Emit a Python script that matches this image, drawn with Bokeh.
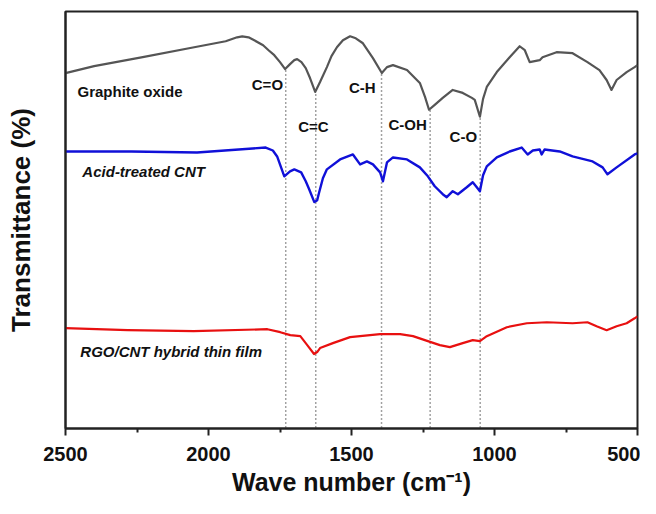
from bokeh.plotting import figure
from bokeh.models import Range1d, FixedTicker
from bokeh.core.properties import value
from bokeh.embed import file_html
from bokeh.resources import INLINE

# ---- data (wavenumber cm-1, transmittance in arbitrary offset units) ----
gray_wn = [2500, 2400, 2230, 2050, 1940, 1900, 1882, 1860, 1840, 1809, 1790, 1770, 1750, 1732,
           1715, 1700, 1690, 1675, 1660, 1645, 1627, 1610, 1586, 1570, 1551, 1530, 1505, 1485,
           1460, 1425, 1394, 1376, 1355, 1306, 1261, 1243, 1229, 1209, 1181, 1146, 1111,
           1079, 1069, 1051, 1040, 1027, 992, 947, 912, 894, 877, 842, 832, 783, 727, 675, 633, 608,
           591, 573, 538, 510, 500]
gray_t = [361, 368, 377, 387, 393, 397, 398, 397, 394, 389, 384, 379, 372, 365,
          370, 374, 375, 372, 366, 356, 342, 352, 367, 378, 387, 394, 398, 396,
          391, 376, 361, 367, 369, 364, 351, 337, 324, 329, 336, 344, 341,
          336, 334, 317, 335, 347, 362, 377, 388, 384, 372, 374, 377, 382, 381, 372, 364, 354,
          344, 354, 362, 367, 369]

blue_wn = [2500, 2270, 2040, 1800, 1775, 1760, 1745, 1735, 1715, 1700, 1676, 1660, 1648, 1630,
           1620, 1613, 1600, 1586, 1540, 1495, 1470, 1446, 1425, 1400, 1390, 1376, 1355, 1306,
           1261, 1233, 1209, 1181, 1167, 1146, 1128, 1097, 1076, 1062, 1051, 1040, 1027, 992,
           947, 905, 884, 866, 842, 835, 825, 772, 727, 657, 622, 605, 573, 510, 500]
blue_t = [282, 282, 281, 286, 283, 277, 265, 257, 262, 264, 261, 252, 244, 231,
          233, 241, 255, 264, 274, 279, 269, 272, 269, 261, 252, 271, 276, 274,
          266, 257, 247, 239, 236, 242, 239, 246, 251, 246, 242, 258, 267, 276,
          282, 286, 279, 283, 284, 279, 284, 282, 277, 272, 266, 259, 266, 279, 280]

red_wn = [2500, 2283, 2052, 1794, 1749, 1714, 1679, 1652, 1631, 1620, 1610, 1565, 1505, 1470,
          1400, 1330, 1285, 1233, 1191, 1156, 1111, 1076, 1051, 1027, 957, 887, 817, 727,
          675, 643, 608, 573, 538, 510, 500]
red_t = [104, 102, 101, 103, 100, 97, 96, 86, 78, 80, 84, 89, 95, 96,
         98, 98, 96, 91, 87, 85, 89, 92, 91, 96, 105, 109, 110, 109,
         110, 106, 102, 106, 109, 114, 116]

peak_wn = [1730, 1625, 1395, 1225, 1050]
peak_top = [366, 342, 362, 324, 317]
peak_labels = ["C=O", "C=C", "C-H", "C-OH", "C-O"]
peak_label_x = [1794, 1633, 1462, 1304, 1109]
peak_label_y = [349, 307, 346, 309, 297]

series_names = ["Graphite oxide", "Acid-treated CNT", "RGO/CNT hybrid thin film"]
series_name_x = [2458, 2441, 2448]
series_name_y = [342, 262, 81]
series_name_style = ["bold", "bold italic", "bold italic"]

x_major = [2500, 2000, 1500, 1000, 500]
x_minor = [2250, 1750, 1250, 750]

FONT = "Liberation Sans"

p = figure(width=640, height=498, output_backend="svg", toolbar_location=None,
           x_range=Range1d(2500, 500), y_range=Range1d(3, 423),
           min_border_left=65, min_border_right=3, min_border_top=11, min_border_bottom=67)
p.grid.visible = False
p.background_fill_color = "white"
p.border_fill_color = "white"
p.outline_line_color = "#222222"
p.outline_line_width = 2

# x axis
xa = p.xaxis[0]
xa.ticker = FixedTicker(ticks=x_major, minor_ticks=x_minor)
xa.axis_line_width = 2
xa.axis_line_color = "#222222"
xa.major_tick_out = 7
xa.major_tick_in = 0
xa.minor_tick_out = 4
xa.minor_tick_in = 0
xa.major_tick_line_width = 2
xa.minor_tick_line_width = 2
xa.major_tick_line_color = "#222222"
xa.minor_tick_line_color = "#222222"
xa.major_label_text_font = FONT
xa.major_label_text_font_style = "bold"
xa.major_label_text_font_size = "20px"
xa.major_label_text_color = "#111111"
xa.major_label_standoff = 11
xa.axis_label = "Wave number (cm\u207b\u00b9)"
xa.axis_label_text_font = FONT
xa.axis_label_text_font_style = "bold"
xa.axis_label_text_font_size = "25px"
xa.axis_label_text_color = "#111111"
xa.axis_label_standoff = 4

# y axis (no ticks)
ya = p.yaxis[0]
ya.ticker = FixedTicker(ticks=[])
ya.axis_line_width = 2
ya.axis_line_color = "#222222"
ya.major_tick_line_color = None
ya.minor_tick_line_color = None
ya.major_label_text_font_size = "0px"
ya.axis_label = "Transmittance (%)"
ya.axis_label_text_font = FONT
ya.axis_label_text_font_style = "bold"
ya.axis_label_text_font_size = "26px"
ya.axis_label_text_color = "#111111"
ya.axis_label_standoff = 30

# dotted marker lines
p.segment(x0=peak_wn, y0=[0] * len(peak_wn), x1=peak_wn, y1=peak_top,
          line_color="#444444", line_width=1.5, line_dash="1 3")

# spectra
p.line(gray_wn, gray_t, line_color="#555555", line_width=2.2, line_join="round")
p.line(blue_wn, blue_t, line_color="#1010d8", line_width=2.4, line_join="round")
p.line(red_wn, red_t, line_color="#e81010", line_width=2.2, line_join="round")

# peak labels
p.text(x=peak_label_x, y=peak_label_y, text=peak_labels,
       text_font=value(FONT), text_font_style="bold", text_font_size="15px",
       text_align="center", text_baseline="middle", text_color="#111111")

# series names
for name, x, y, st in zip(series_names, series_name_x, series_name_y, series_name_style):
    p.text(x=[x], y=[y], text=[name], text_font=value(FONT), text_font_style=st,
           text_font_size="15px", text_align="left", text_baseline="middle",
           text_color="#111111")

open("out.html", "w").write(file_html(p, INLINE))
